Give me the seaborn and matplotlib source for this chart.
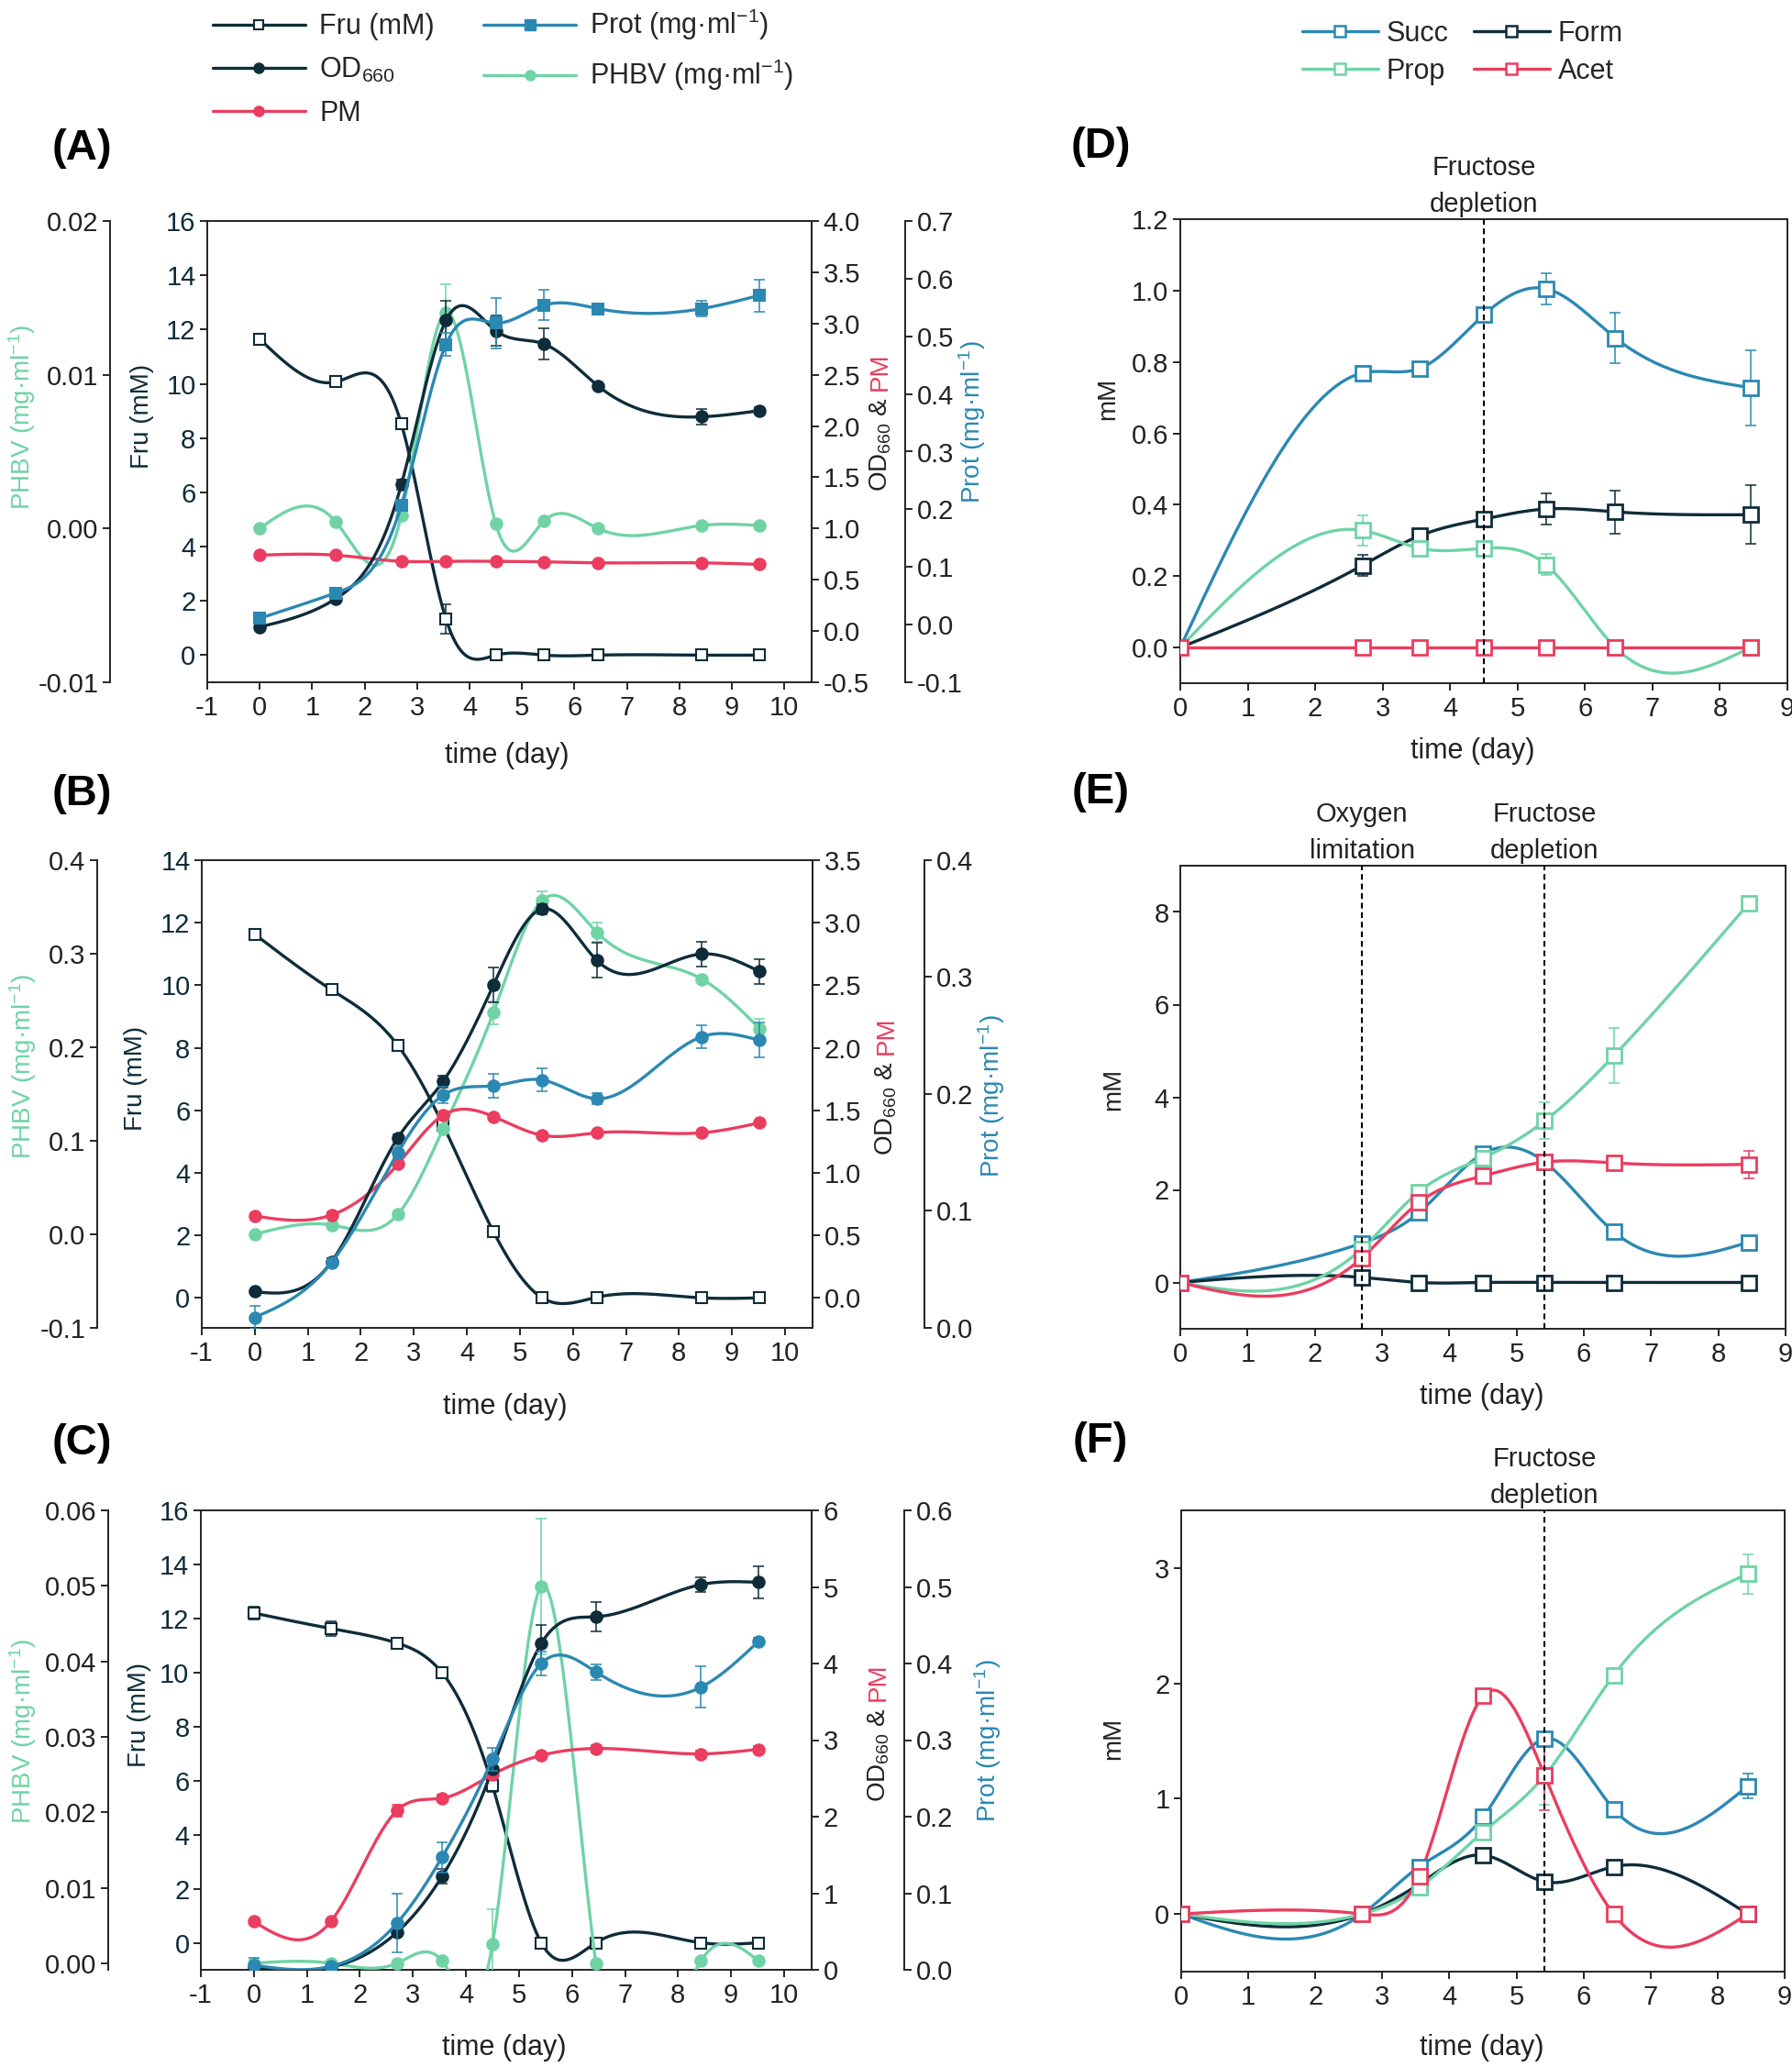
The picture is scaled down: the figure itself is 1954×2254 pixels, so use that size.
import numpy as np
import pandas as pd
import seaborn as sns
import matplotlib
matplotlib.use("Agg")
import matplotlib.pyplot as plt
from matplotlib.lines import Line2D
from matplotlib import font_manager

# ---- data ----
days_left = [0, 1.45, 2.7, 3.55, 4.5, 5.42, 6.45, 8.43, 9.52]
days_right = [0, 2.7, 3.55, 4.5, 5.42, 6.45, 8.45]

# (A)
fru_a = [11.65, 10.07, 8.52, 1.33, 0.0, 0.0, 0.0, 0.0, 0.0]
fru_a_err = [0.1, 0.1, 0.1, 0.55, 0.05, 0.05, 0.0, 0.0, 0.0]
od_a = [0.04, 0.315, 1.43, 3.03, 2.93, 2.80, 2.39, 2.09, 2.15]
od_a_err = [0.02, 0.03, 0.05, 0.19, 0.15, 0.15, 0.03, 0.08, 0.03]
pm_a = [0.74, 0.74, 0.68, 0.68, 0.68, 0.675, 0.665, 0.665, 0.65]
pm_a_err = [0.01] * 9
phbv_a = [0.0, 0.00044, 0.00087, 0.01406, 0.00029, 0.00049, 0.0, 0.0002, 0.0002]
phbv_a_err = [0, 0, 0, 0.0018, 0, 0, 0, 0, 0]
prot_a = [0.011, 0.055, 0.207, 0.486, 0.523, 0.554, 0.548, 0.548, 0.571]
prot_a_err = [0.005, 0.005, 0.01, 0.02, 0.044, 0.026, 0.006, 0.013, 0.028]

# (B)
fru_b = [11.63, 9.85, 8.07, 5.53, 2.12, 0.0, 0.02, 0.0, 0.0]
fru_b_err = [0.1, 0.1, 0.1, 0.1, 0.15, 0.05, 0.05, 0.05, 0.05]
od_b = [0.05, 0.29, 1.28, 1.73, 2.50, 3.11, 2.70, 2.75, 2.61]
od_b_err = [0.02, 0.03, 0.03, 0.05, 0.14, 0.04, 0.14, 0.1, 0.1]
pm_b = [0.655, 0.663, 1.07, 1.46, 1.45, 1.30, 1.32, 1.32, 1.40]
pm_b_err = [0.02] * 9
phbv_b = [0.0, 0.010, 0.0215, 0.1125, 0.237, 0.357, 0.323, 0.273, 0.220]
phbv_b_err = [0.002, 0.002, 0.003, 0.003, 0.012, 0.01, 0.01, 0.003, 0.01]
prot_b = [0.009, 0.056, 0.150, 0.199, 0.207, 0.212, 0.196, 0.249, 0.246]
prot_b_err = [0.01, 0.003, 0.005, 0.007, 0.01, 0.01, 0.005, 0.01, 0.015]

# (C)
fru_c = [12.2, 11.63, 11.09, 9.99, 5.82, 0.0, 0.0, 0.0, 0.0]
fru_c_err = [0.25, 0.27, 0.1, 0.2, 0.25, 0.05, 0.05, 0.05, 0.05]
od_c = [0.02, 0.035, 0.49, 1.22, 2.62, 4.26, 4.61, 5.03, 5.06]
od_c_err = [0.02, 0.02, 0.03, 0.1, 0.1, 0.24, 0.19, 0.1, 0.21]
pm_c = [0.63, 0.63, 2.08, 2.24, 2.55, 2.80, 2.89, 2.82, 2.88]
pm_c_err = [0.03, 0.03, 0.08, 0.05, 0.05, 0.04, 0.05, 0.04, 0.04]
phbv_c = [0.0, 0.0, 0.0, 0.0003, 0.0025, 0.0499, 0.0, 0.0003, 0.0003]
phbv_c_err = [0.0005, 0.0003, 0, 0, 0.0046, 0.009, 0, 0, 0]
prot_c = [0.006, 0.0045, 0.061, 0.147, 0.275, 0.40, 0.389, 0.369, 0.429]
prot_c_err = [0.01, 0.003, 0.038, 0.02, 0.015, 0.015, 0.01, 0.027, 0.005]

# (D)
succ_d = [0.0, 0.769, 0.782, 0.932, 1.005, 0.867, 0.728]
succ_d_err = [0, 0.015, 0.01, 0.01, 0.044, 0.07, 0.105]
form_d = [0.0, 0.230, 0.313, 0.360, 0.388, 0.380, 0.372]
form_d_err = [0, 0.03, 0.01, 0.01, 0.043, 0.06, 0.082]
prop_d = [0.0, 0.328, 0.278, 0.278, 0.232, 0.0, 0.0]
prop_d_err = [0, 0.043, 0.01, 0.005, 0.03, 0, 0]
acet_d = [0.0, 0.0, 0.0, 0.0, 0.0, 0.0, 0.0]
acet_d_err = [0, 0, 0, 0, 0, 0, 0]

# (E)
succ_e = [0.0, 0.85, 1.51, 2.78, 2.60, 1.09, 0.87]
succ_e_err = [0, 0.05, 0.05, 0.05, 0.05, 0.1, 0.07]
form_e = [0.0, 0.11, 0.0, 0.0, 0.0, 0.0, 0.0]
form_e_err = [0, 0.03, 0, 0, 0, 0, 0]
prop_e = [0.0, 0.73, 1.96, 2.69, 3.49, 4.90, 8.18]
prop_e_err = [0, 0.05, 0.1, 0.1, 0.4, 0.6, 0.08]
acet_e = [0.0, 0.53, 1.73, 2.30, 2.60, 2.58, 2.55]
acet_e_err = [0, 0.05, 0.15, 0.1, 0.05, 0.05, 0.3]

# (F)
succ_f = [0.0, 0.0, 0.41, 0.84, 1.52, 0.91, 1.11]
succ_f_err = [0, 0, 0.03, 0.03, 0.03, 0.04, 0.11]
form_f = [0.0, 0.0, 0.26, 0.51, 0.28, 0.41, 0.0]
form_f_err = [0, 0, 0.02, 0.03, 0.03, 0.02, 0]
prop_f = [0.0, 0.0, 0.23, 0.71, 1.20, 2.07, 2.95]
prop_f_err = [0, 0, 0.03, 0.06, 0.25, 0.03, 0.17]
acet_f = [0.0, 0.0, 0.33, 1.89, 1.20, 0.0, 0.0]
acet_f_err = [0, 0, 0.05, 0.03, 0.3, 0, 0]

DARK = "#0e2c3a"
BLUE = "#2b88b2"
GREEN = "#6fd3a5"
RED = "#ea3d5f"
INK = "#222222"


def pick_font(*names):
    for n in names:
        try:
            font_manager.findfont(font_manager.FontProperties(family=n),
                                  fallback_to_default=False)
            return n
        except Exception:
            pass
    return "DejaVu Sans"


NARROW = pick_font("Liberation Sans Narrow", "Liberation Sans")
REG = pick_font("Liberation Sans", "Arial")

sns.set_theme(style="ticks")
plt.rcParams["font.family"] = [NARROW, "DejaVu Sans"]
plt.rcParams["mathtext.fontset"] = "custom"
plt.rcParams["mathtext.rm"] = NARROW
plt.rcParams["mathtext.it"] = NARROW
plt.rcParams["mathtext.bf"] = NARROW
plt.rcParams["axes.unicode_minus"] = False
plt.rcParams["axes.linewidth"] = 1.4
plt.rcParams["axes.edgecolor"] = INK

W, H = 1954, 2254
fig = plt.figure(figsize=(W / 100, H / 100), dpi=100)
TICK = 21
LAB = 20


def box(l, t, r, b):
    return [l / W, 1 - b / H, (r - l) / W, (b - t) / H]


def fx(x):
    return x / W


def fy(y):
    return 1 - y / H


def natural_spline(x, y, num=400):
    # smooth connecting line through the measured points (natural cubic)
    x = np.asarray(x, float)
    y = np.asarray(y, float)
    n = len(x)
    h = np.diff(x)
    A = np.zeros((n, n))
    r = np.zeros(n)
    A[0, 0] = A[-1, -1] = 1
    for i in range(1, n - 1):
        A[i, i - 1] = h[i - 1]
        A[i, i] = 2 * (h[i - 1] + h[i])
        A[i, i + 1] = h[i]
        r[i] = 3 * ((y[i + 1] - y[i]) / h[i] - (y[i] - y[i - 1]) / h[i - 1])
    c = np.linalg.solve(A, r)
    b = (y[1:] - y[:-1]) / h - h * (2 * c[:-1] + c[1:]) / 3
    d = (c[1:] - c[:-1]) / (3 * h)
    xs = np.linspace(x[0], x[-1], num)
    idx = np.clip(np.searchsorted(x, xs, side="right") - 1, 0, n - 2)
    dx = xs - x[idx]
    ys = y[idx] + b[idx] * dx + c[idx] * dx ** 2 + d[idx] * dx ** 3
    return xs, ys


def series(ax, x, y, err, color, marker, ms, mfc=None, lw=2.4, mew=1.5):
    xs, ys = natural_spline(x, y)
    sns.lineplot(x=xs, y=ys, ax=ax, color=color, lw=lw, sort=False,
                 estimator=None, legend=False, zorder=2)
    ax.errorbar(x, y, yerr=err, fmt="none", ecolor=color, elinewidth=1.1,
                capsize=4, capthick=1.1, zorder=3)
    ax.plot(x, y, ls="none", marker=marker, ms=ms,
            mfc=color if mfc is None else mfc, mec=color, mew=mew, zorder=4)
    ax.set_xlabel("")
    ax.set_ylabel("")


def set_y(ax, lim, ticks, fmt, color=INK):
    ax.set_ylim(*lim)
    ax.set_yticks(ticks)
    ax.set_yticklabels([fmt.format(t) for t in ticks])
    ax.tick_params(axis="y", labelsize=TICK, labelcolor=color, length=6,
                   width=1.4, direction="out", pad=3)


def left_panel(rect, fru, fru_err, od, od_err, pm, pm_err, phbv, phbv_err,
               prot, prot_err, fru_lim, od_lim, od_ticks, od_fmt,
               phbv_lim, phbv_ticks, phbv_fmt, prot_lim, prot_ticks,
               off_l, off_r, prot_marker, fru_top):
    ax = fig.add_axes(rect)
    ph = ax.twinx()
    od_ax = ax.twinx()
    pr = ax.twinx()

    for s in ["top", "bottom", "right"]:
        ph.spines[s].set_visible(False)
    ph.spines["left"].set_visible(True)
    ph.spines["left"].set_position(("axes", off_l))
    ph.yaxis.set_ticks_position("left")
    for s in ["top", "bottom", "left"]:
        pr.spines[s].set_visible(False)
    pr.spines["right"].set_position(("axes", off_r))
    for s in ["top", "bottom", "left"]:
        od_ax.spines[s].set_visible(False)

    series(ph, days_left, phbv, phbv_err, GREEN, "o", 9)
    series(pr, days_left, prot, prot_err, BLUE, prot_marker, 9)
    series(od_ax, days_left, pm, pm_err, RED, "o", 9)
    series(od_ax, days_left, od, od_err, DARK, "o", 9)
    series(ax, days_left, fru, fru_err, DARK, "s", 8, mfc="white")

    ax.set_xlim(-1, 10.52)
    ax.set_xticks(range(-1, 11))
    ax.tick_params(axis="x", labelsize=TICK, labelcolor=INK, length=6,
                   width=1.4, direction="out", pad=4, top=False)
    set_y(ax, fru_lim, list(range(0, fru_top + 1, 2)), "{:d}", DARK)
    ax.tick_params(axis="y", right=False)
    set_y(od_ax, od_lim, od_ticks, od_fmt)
    set_y(ph, phbv_lim, phbv_ticks, phbv_fmt)
    set_y(pr, prot_lim, prot_ticks, "{:.1f}")
    ph.tick_params(axis="y", right=False, labelright=False,
                   left=True, labelleft=True)
    return ax


def ylabels_left(x_ph, x_fru, x_od, x_pr, y_ph, y_fru, y_od_start, y_pr):
    fig.text(fx(x_ph), fy(y_ph), "PHBV (mg·ml$^{-1}$)", rotation=90,
             ha="center", va="center", fontsize=LAB, color=GREEN, family=REG)
    fig.text(fx(x_fru), fy(y_fru), "Fru (mM)", rotation=90, ha="center",
             va="center", fontsize=LAB, color=DARK, family=REG)
    t1 = fig.text(fx(x_od), fy(y_od_start), "OD$_{660}$ &", rotation=90,
                  rotation_mode="anchor", ha="left", va="baseline",
                  fontsize=LAB, color=INK, family=REG)
    fig.canvas.draw()
    bb = t1.get_window_extent()
    fig.text(fx(x_od), (bb.y1 + 7) / H, "PM", rotation=90,
             rotation_mode="anchor", ha="left", va="baseline",
             fontsize=LAB, color=RED, family=REG)
    fig.text(fx(x_pr), fy(y_pr), "Prot (mg·ml$^{-1}$)", rotation=90,
             ha="center", va="center", fontsize=LAB, color=BLUE, family=REG)


# ---- left column ----
left_panel(box(226, 241, 885, 744), fru_a, fru_a_err, od_a, od_a_err, pm_a,
           pm_a_err, phbv_a, phbv_a_err, prot_a, prot_a_err,
           (-1, 16), (-0.5, 4.0), list(np.arange(-0.5, 4.01, 0.5)), "{:.1f}",
           (-0.01, 0.02), [-0.01, 0.0, 0.01, 0.02], "{:.2f}",
           (-0.1, 0.7), list(np.arange(-0.1, 0.71, 0.1)),
           -0.161, 1.155, "s", 16)
ylabels_left(24, 155, 967, 1060, 455, 454, 536, 460)

left_panel(box(220, 938, 886, 1448), fru_b, fru_b_err, od_b, od_b_err, pm_b,
           pm_b_err, phbv_b, phbv_b_err, prot_b, prot_b_err,
           (-0.96, 14), (-0.24, 3.5), list(np.arange(0, 3.51, 0.5)), "{:.1f}",
           (-0.1, 0.4), list(np.arange(-0.1, 0.41, 0.1)), "{:.1f}",
           (0.0, 0.4), list(np.arange(0.0, 0.41, 0.1)),
           -0.171, 1.183, "o", 14)
ylabels_left(25, 148, 974, 1081, 1163, 1176, 1260, 1195)

left_panel(box(219, 1647, 885, 2148), fru_c, fru_c_err, od_c, od_c_err, pm_c,
           pm_c_err, phbv_c, phbv_c_err, prot_c, prot_c_err,
           (-1, 16), (0, 6), list(range(0, 7)), "{:d}",
           (-0.00087, 0.06), list(np.arange(0.0, 0.061, 0.01)), "{:.2f}",
           (0.0, 0.6), list(np.arange(0.0, 0.61, 0.1)),
           -0.152, 1.152, "o", 16)
ylabels_left(25, 152, 965, 1077, 1888, 1870, 1965, 1898)


# ---- right column ----
def right_panel(rect, succ, succ_err, form, form_err, prop, prop_err,
                acet, acet_err, ylim, yticks, yfmt, vlines, notes):
    ax = fig.add_axes(rect)
    series(ax, days_right, succ, succ_err, BLUE, "s", 12, mfc="white", mew=2)
    series(ax, days_right, form, form_err, DARK, "s", 12, mfc="white", mew=2)
    series(ax, days_right, prop, prop_err, GREEN, "s", 12, mfc="white", mew=2)
    series(ax, days_right, acet, acet_err, RED, "s", 12, mfc="white", mew=2)
    for xv, note in zip(vlines, notes):
        ax.axvline(xv, color="black", lw=1.5, ls=(0, (3, 2)), zorder=6)
        ax.text(xv, 1.004, note, transform=ax.get_xaxis_transform(),
                ha="center", va="bottom", fontsize=21, linespacing=1.55,
                color=INK)
    ax.set_xlim(0, 9)
    ax.set_xticks(range(0, 10))
    ax.tick_params(axis="x", labelsize=TICK, labelcolor=INK, length=6,
                   width=1.4, direction="out", pad=4, top=False)
    set_y(ax, ylim, yticks, yfmt)
    ax.tick_params(axis="y", right=False)
    return ax


right_panel(box(1287, 239, 1949, 745), succ_d, succ_d_err, form_d, form_d_err,
            prop_d, prop_d_err, acet_d, acet_d_err, (-0.1, 1.2),
            list(np.arange(0, 1.21, 0.2)), "{:.1f}", [4.5],
            ["Fructose\ndepletion"])
right_panel(box(1287, 944, 1947, 1449), succ_e, succ_e_err, form_e, form_e_err,
            prop_e, prop_e_err, acet_e, acet_e_err, (-1, 9),
            [0, 2, 4, 6, 8], "{:d}", [2.7, 5.42],
            ["Oxygen\nlimitation", "Fructose\ndepletion"])
right_panel(box(1288, 1647, 1946, 2150), succ_f, succ_f_err, form_f, form_f_err,
            prop_f, prop_f_err, acet_f, acet_f_err, (-0.5, 3.5),
            [0, 1, 2, 3], "{:d}", [5.42], ["Fructose\ndepletion"])

for xm, ym in [(1208, 435), (1214, 1188), (1214, 1896)]:
    fig.text(fx(xm), fy(ym), "mM", rotation=90, ha="center", va="center",
             fontsize=LAB, color=INK, family=REG)

for xt, yt in [(553, 824), (551, 1534), (550, 2233),
               (1606, 819), (1616, 1523), (1616, 2233)]:
    fig.text(fx(xt), fy(yt), "time (day)", ha="center", va="center",
             fontsize=22, color=INK)

for lab, xl, yl in [("(A)", 89, 162), ("(B)", 89, 866), ("(C)", 89, 1574),
                    ("(D)", 1200, 160), ("(E)", 1200, 864), ("(F)", 1200, 1572)]:
    fig.text(fx(xl), fy(yl), lab, ha="center", va="center", fontsize=34,
             fontweight="bold", color="black")

# ---- legends ----
h_fru = Line2D([], [], color=DARK, lw=2.4, marker="s", ms=7, mfc="white",
               mec=DARK, mew=1.5)
h_od = Line2D([], [], color=DARK, lw=2.4, marker="o", ms=8)
h_pm = Line2D([], [], color=RED, lw=2.4, marker="o", ms=8)
h_prot = Line2D([], [], color=BLUE, lw=2.4, marker="s", ms=8)
h_phbv = Line2D([], [], color=GREEN, lw=2.4, marker="o", ms=8)
fig.legend(handles=[h_fru, h_od, h_pm, h_prot, h_phbv],
           labels=["Fru (mM)", "OD$_{660}$", "PM", "Prot (mg·ml$^{-1}$)",
                   "PHBV (mg·ml$^{-1}$)"],
           ncol=2, loc="upper left", bbox_to_anchor=(fx(232), fy(8)),
           frameon=False, fontsize=22, handlelength=3.3, handletextpad=0.5,
           columnspacing=1.75, labelspacing=0.55, borderpad=0, borderaxespad=0)

h_succ = Line2D([], [], color=BLUE, lw=2.4, marker="s", ms=9, mfc="white",
                mec=BLUE, mew=1.8)
h_prop = Line2D([], [], color=GREEN, lw=2.4, marker="s", ms=9, mfc="white",
                mec=GREEN, mew=1.8)
h_form = Line2D([], [], color=DARK, lw=2.4, marker="s", ms=9, mfc="white",
                mec=DARK, mew=1.8)
h_acet = Line2D([], [], color=RED, lw=2.4, marker="s", ms=9, mfc="white",
                mec=RED, mew=1.8)
fig.legend(handles=[h_succ, h_prop, h_form, h_acet],
           labels=["Succ", "Prop", "Form", "Acet"],
           ncol=2, loc="upper left", bbox_to_anchor=(fx(1420), fy(22)),
           frameon=False, fontsize=22, handlelength=2.7, handletextpad=0.3,
           columnspacing=0.9, labelspacing=0.35, borderpad=0, borderaxespad=0)

fig.savefig("out.png", dpi=100)
